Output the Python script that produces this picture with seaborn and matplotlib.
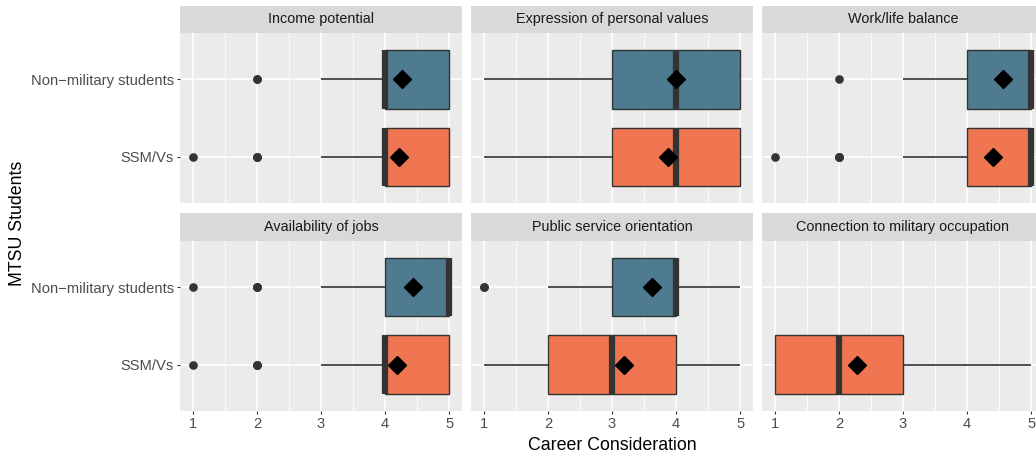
import numpy as np
import pandas as pd
import matplotlib
matplotlib.use("Agg")
import matplotlib.pyplot as plt
from matplotlib.patches import Rectangle
from matplotlib.ticker import MultipleLocator
import seaborn as sns

# --- data: response counts per Likert level (1..5), 100 respondents per group ---
levels = [1, 2, 3, 4, 5]
factors = ["Income potential", "Expression of personal values", "Work/life balance",
           "Availability of jobs", "Public service orientation",
           "Connection to military occupation"]
groups = ["Non\u2212military students", "SSM/Vs"]

nonmil_counts = [
    [0, 2, 8, 51, 39],
    [3, 5, 20, 33, 39],
    [0, 1, 5, 31, 63],
    [1, 3, 9, 25, 62],
    [2, 10, 30, 39, 19],
    [0, 0, 0, 0, 0],
]
ssmv_counts = [
    [1, 3, 8, 49, 39],
    [4, 6, 20, 38, 32],
    [1, 3, 8, 30, 58],
    [1, 3, 9, 51, 36],
    [9, 21, 30, 22, 18],
    [36, 26, 20, 9, 9],
]

palette = {groups[0]: "#4F7B90", groups[1]: "#F07652"}

# build long table of responses
rows = []
for f, nc, sc in zip(factors, nonmil_counts, ssmv_counts):
    for g, counts in zip(groups, [nc, sc]):
        for lv, c in zip(levels, counts):
            rows += [(f, g, lv)] * c
df = pd.DataFrame(rows, columns=["factor", "group", "score"])

sns.set_theme(style="darkgrid", rc={"axes.facecolor": "#EBEBEB"})
plt.rcParams["font.family"] = ["Liberation Sans", "DejaVu Sans"]

fig, axes = plt.subplots(2, 3, figsize=(10.36, 4.58), dpi=100, sharex=True, sharey=True)
fig.subplots_adjust(left=180 / 1036, right=1044 / 1036, bottom=1 - 411 / 458,
                    top=1 - 33 / 458, wspace=9 / 282, hspace=37 / 170)

for ax, f in zip(axes.flat, factors):
    sub = df[df["factor"] == f]
    sns.boxplot(data=sub, x="score", y="group", hue="group", order=groups,
                hue_order=groups, palette=palette, legend=False, width=0.75,
                ax=ax, linecolor="#333333", linewidth=1.0, showcaps=False,
                saturation=1, fliersize=5.2, showmeans=True,
                medianprops=dict(color="#333333", linewidth=4.5, solid_capstyle="butt"),
                whiskerprops=dict(color="#333333", linewidth=1.2),
                flierprops=dict(marker="o", markerfacecolor="#333333",
                                markeredgecolor="#333333"),
                meanprops=dict(marker="D", markerfacecolor="black",
                               markeredgecolor="black", markersize=9, zorder=6))
    ax.set_xlim(0.8, 5.2)
    ax.set_ylim(1.6, -0.6)
    ax.set_xticks(levels)
    ax.xaxis.set_minor_locator(MultipleLocator(0.5))
    ax.set_axisbelow(True)
    ax.grid(which="major", color="white", linewidth=1.1)
    ax.grid(which="minor", axis="x", color="white", linewidth=0.55)
    for s in ax.spines.values():
        s.set_visible(False)
    ax.set_xlabel("")
    ax.set_ylabel("")
    ax.tick_params(which="major", length=2.5, width=0.8, color="#333333",
                   labelcolor="#4D4D4D", labelsize=10.6, pad=2)
    ax.tick_params(which="minor", length=0)
    ax.tick_params(axis="x", bottom=True)
    ax.tick_params(axis="y", left=True)
    # facet strip
    h = 27 / 170
    ax.add_patch(Rectangle((0, 1), 1, h, transform=ax.transAxes, clip_on=False,
                           facecolor="#D9D9D9", edgecolor="none"))
    ax.text(0.5, 1 + h / 2, f, transform=ax.transAxes, ha="center", va="center",
            fontsize=10.4, color="#1A1A1A")

for ax in axes[0]:
    ax.tick_params(axis="x", bottom=False, labelbottom=False)
for ax in axes[:, 1:].flat:
    ax.tick_params(axis="y", left=False, labelleft=False)

fig.text(612 / 1036, 1 - 446 / 458, "Career Consideration", ha="center", va="center",
         fontsize=12.8, color="black")
fig.text(18 / 1036, 1 - 223 / 458, "MTSU Students", ha="center", va="center",
         rotation=90, fontsize=12.8, color="black")

fig.savefig("out.png", dpi=100)
